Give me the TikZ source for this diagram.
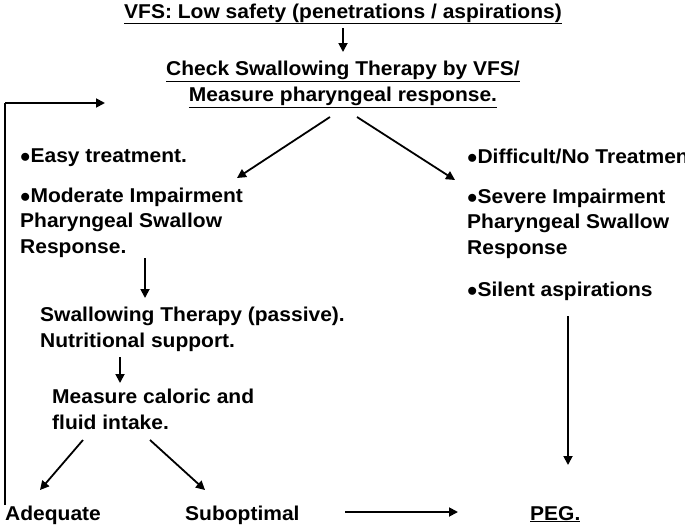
\documentclass[tikz,border=0pt]{standalone}
\usepackage{fontspec}
\setmainfont{Liberation Sans}[FakeStretch=1.05]
\usetikzlibrary{arrows.meta}
\begin{document}
\begin{tikzpicture}[x=1pt,y=-1pt,
  t/.style={inner sep=0pt,font=\fontsize{20}{25.5}\selectfont\bfseries,align=left,anchor=north west},
  a/.style={line width=1.8pt,-{Triangle[length=9pt,width=9pt]}},
  l/.style={line width=1.8pt}]
\useasboundingbox (0,0) rectangle (685,525);
\node[t,anchor=base] (title) at (343,18) {\underline{VFS: Low safety (penetrations / aspirations)}};
\node[t,align=center,anchor=north] (check) at (343,61) {\underline{Check Swallowing Therapy by VFS/}\\\underline{Measure pharyngeal response.}};
\node[t] (left) at (20,149) {$\bullet$Easy treatment.\\[14pt]$\bullet$Moderate Impairment\\Pharyngeal Swallow\\Response.};
\node[t] (right) at (467,149) {$\bullet$Difficult/No Treatment.\\[14pt]$\bullet$Severe Impairment\\Pharyngeal Swallow\\Response\\[17pt]$\bullet$Silent aspirations};
\node[t] (ther) at (40,307) {Swallowing Therapy (passive).\\Nutritional support.};
\node[t] (meas) at (52,389) {Measure caloric and\\fluid intake.};
\node[t,anchor=base west] (adeq) at (5,520) {Adequate};
\node[t,anchor=base west] (sub) at (185,520) {Suboptimal};
\node[t,anchor=base west] (peg) at (530,520) {\underline{PEG.}};
\coordinate (c1) at (5,505);
\coordinate (c2) at (5,103);
\coordinate (c3) at (105,103);
\draw[a] (343,28) -- (343,52);
\draw[l] (c1) -- (c2);
\draw[a] (c2) -- (c3);
\draw[a] (330,117) -- (237,178);
\draw[a] (357,117) -- (455,180);
\draw[a] (145,258) -- (145,298);
\draw[a] (120,357) -- (120,383);
\draw[a] (83,440) -- (40,490);
\draw[a] (150,440) -- (205,490);
\draw[a] (345,512) -- (458,512);
\draw[a] (568,316) -- (568,465);
\end{tikzpicture}
\end{document}
